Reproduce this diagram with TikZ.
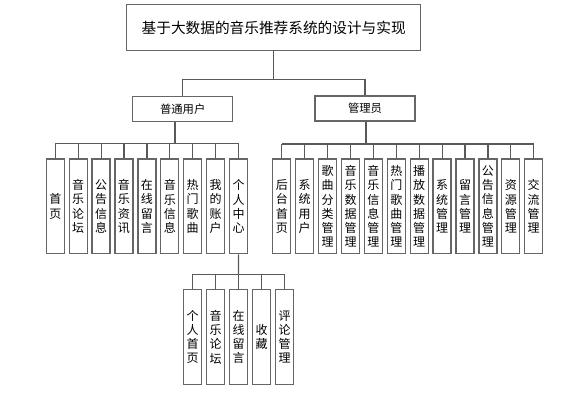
\documentclass[tikz,border=0pt]{standalone}
\usepackage{fontspec}
\setmainfont{Noto Sans CJK SC}
\usetikzlibrary{positioning}

\begin{document}
\begin{tikzpicture}[x=0.75pt,y=-0.75pt,
    box/.style={draw=black!60,line width=1pt,fill=white,inner sep=0pt},
    vbox/.style={box,minimum width=13.5pt,minimum height=71pt,align=center,font=\fontsize{9}{10.7}\selectfont},
    link/.style={draw=black!65,line width=0.9pt}]
  \useasboundingbox (0,0) rectangle (587,399);
  % top levels
  \node[box,minimum width=220.5pt,minimum height=34.5pt,font=\fontsize{11}{13}\selectfont] (root) at (273.7,27.8) {基于大数据的音乐推荐系统的设计与实现};
  \node[box,minimum width=75pt,minimum height=18.75pt,font=\fontsize{8.5}{10}\selectfont] (user) at (182.7,109) {普通用户};
  \node[box,minimum width=75pt,minimum height=18.75pt,font=\fontsize{8.5}{10}\selectfont] (admin) at (365,108.5) {管理员};
  \coordinate (topbus) at (273.7,79.3);
  \coordinate (ujoin) at (175,143.3);
  \coordinate (ajoin) at (366,144);
  \coordinate (pjoin) at (238.5,274.3);
  % user modules
  \foreach \txt [count=\i] in {{首\\页},{音\\乐\\论\\坛},{公\\告\\信\\息},{音\\乐\\资\\讯},{在\\线\\留\\言},{音\\乐\\信\\息},{热\\门\\歌\\曲},{我\\的\\账\\户},{个\\人\\中\\心}}
    \node[vbox] (u\i) at ({55.3+22.9*(\i-1)},206.5) {\txt};
  % admin modules
  \foreach \txt [count=\i] in {{后\\台\\首\\页},{系\\统\\用\\户},{歌\\曲\\分\\类\\管\\理},{音\\乐\\数\\据\\管\\理},{音\\乐\\信\\息\\管\\理},{热\\门\\歌\\曲\\管\\理},{播\\放\\数\\据\\管\\理},{系\\统\\管\\理},{留\\言\\管\\理},{公\\告\\信\\息\\管\\理},{资\\源\\管\\理},{交\\流\\管\\理}}
    \node[vbox] (a\i) at ({281.8+22.9*(\i-1)},206.5) {\txt};
  % personal centre
  \foreach \txt [count=\i] in {{个\\人\\首\\页},{音\\乐\\论\\坛},{在\\线\\留\\言},{收\\藏},{评\\论\\管\\理}}
    \node[vbox] (p\i) at ({192.5+23*(\i-1)},337) {\txt};
  % connectors
  \draw[link] (root.south) -- (topbus);
  \draw[link] (user.north |- topbus) -- (admin.north |- topbus);
  \draw[link] (user.north) -- (user.north |- topbus);
  \draw[link] (admin.north) -- (admin.north |- topbus);
  \draw[link] (user.south -| ujoin) -- (ujoin);
  \draw[link] (u1.north |- ujoin) -- (u9.north |- ujoin);
  \foreach \i in {1,...,9}
    \draw[link] (u\i.north) -- (u\i.north |- ujoin);
  \draw[link] (admin.south -| ajoin) -- (ajoin);
  \draw[link] (a1.north |- ajoin) -- (a12.north |- ajoin);
  \foreach \i in {1,...,12}
    \draw[link] (a\i.north) -- (a\i.north |- ajoin);
  \draw[link] (u9.south) -- (pjoin);
  \draw[link] (p1.north |- pjoin) -- (p5.north |- pjoin);
  \foreach \i in {1,...,5}
    \draw[link] (p\i.north) -- (p\i.north |- pjoin);
\end{tikzpicture}
\end{document}
